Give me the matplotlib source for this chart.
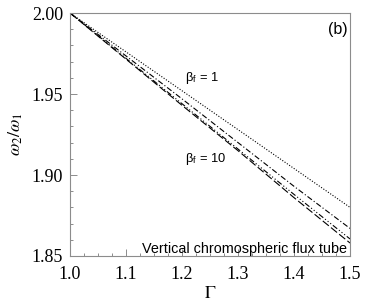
import numpy as np
import matplotlib
matplotlib.use('Agg')
import matplotlib.pyplot as plt
from matplotlib.ticker import MultipleLocator, FormatStrFormatter

######data######
gamma = [1.0, 1.1, 1.2, 1.3, 1.4, 1.5]
w_dotted = [2.000, 1.976, 1.952, 1.928, 1.904, 1.880]
w_dashdot = [2.000, 1.9735, 1.947, 1.920, 1.893, 1.867]
w_dashdotdot = [2.000, 1.972, 1.944, 1.916, 1.888, 1.8605]
w_dashed = [2.000, 1.9715, 1.943, 1.915, 1.886, 1.858]

plt.rcParams['mathtext.fontset'] = 'stix'
serif = 'Liberation Serif'
sans = 'Liberation Sans'
spine_c = '#8c8c8c'

fig = plt.figure(figsize=(3.65, 3.04), dpi=100)
ax = fig.add_axes([0.192, 0.158, 0.767, 0.799])

ax.plot(gamma, w_dotted, color='black', lw=0.8, ls=(0, (1, 1.5)))
ax.plot(gamma, w_dashdot, color='black', lw=0.8, ls=(0, (5, 2, 1, 2)))
ax.plot(gamma, w_dashdotdot, color='black', lw=0.8, ls=(0, (5, 2, 1, 2, 1, 2, 1, 2)))
ax.plot(gamma, w_dashed, color='black', lw=0.8, ls=(0, (7, 2.5)))

ax.set_xlim(1.0, 1.5)
ax.set_ylim(1.85, 2.0)
ax.xaxis.set_major_locator(MultipleLocator(0.1))
ax.xaxis.set_minor_locator(MultipleLocator(0.025))
ax.yaxis.set_major_locator(MultipleLocator(0.05))
ax.yaxis.set_minor_locator(MultipleLocator(0.01))
ax.xaxis.set_major_formatter(FormatStrFormatter('%.1f'))
ax.yaxis.set_major_formatter(FormatStrFormatter('%.2f'))

ax.tick_params(which='both', direction='in', color=spine_c, width=0.7,
               top=False, right=False)
ax.tick_params(which='major', length=5)
ax.tick_params(axis='y', which='major', pad=5)
ax.tick_params(axis='x', which='major', pad=7)
ax.tick_params(which='minor', length=2.5)
for lab in ax.get_xticklabels() + ax.get_yticklabels():
    lab.set_fontfamily(serif)
    lab.set_fontsize(13)
for sp in ax.spines.values():
    sp.set_color(spine_c)
    sp.set_linewidth(0.8)

ax.set_xlabel(r'$\Gamma$', fontsize=13, labelpad=1)
ax.set_ylabel(r'$\omega_2/\omega_1$', fontsize=13, labelpad=5)

ax.text(1.205, 1.958, r'β$_\mathregular{f}$ = 1', fontsize=9.3, family=sans)
ax.text(1.205, 1.908, r'β$_\mathregular{f}$ = 10', fontsize=9.3, family=sans)
ax.text(0.993, 0.965, '(b)', transform=ax.transAxes, ha='right', va='top',
        fontsize=11.5, family=sans)
ax.text(0.99, 0.012, 'Vertical chromospheric flux tube', transform=ax.transAxes,
        ha='right', va='baseline', fontsize=10.4, family=sans)

fig.savefig('out.png', dpi=100)
